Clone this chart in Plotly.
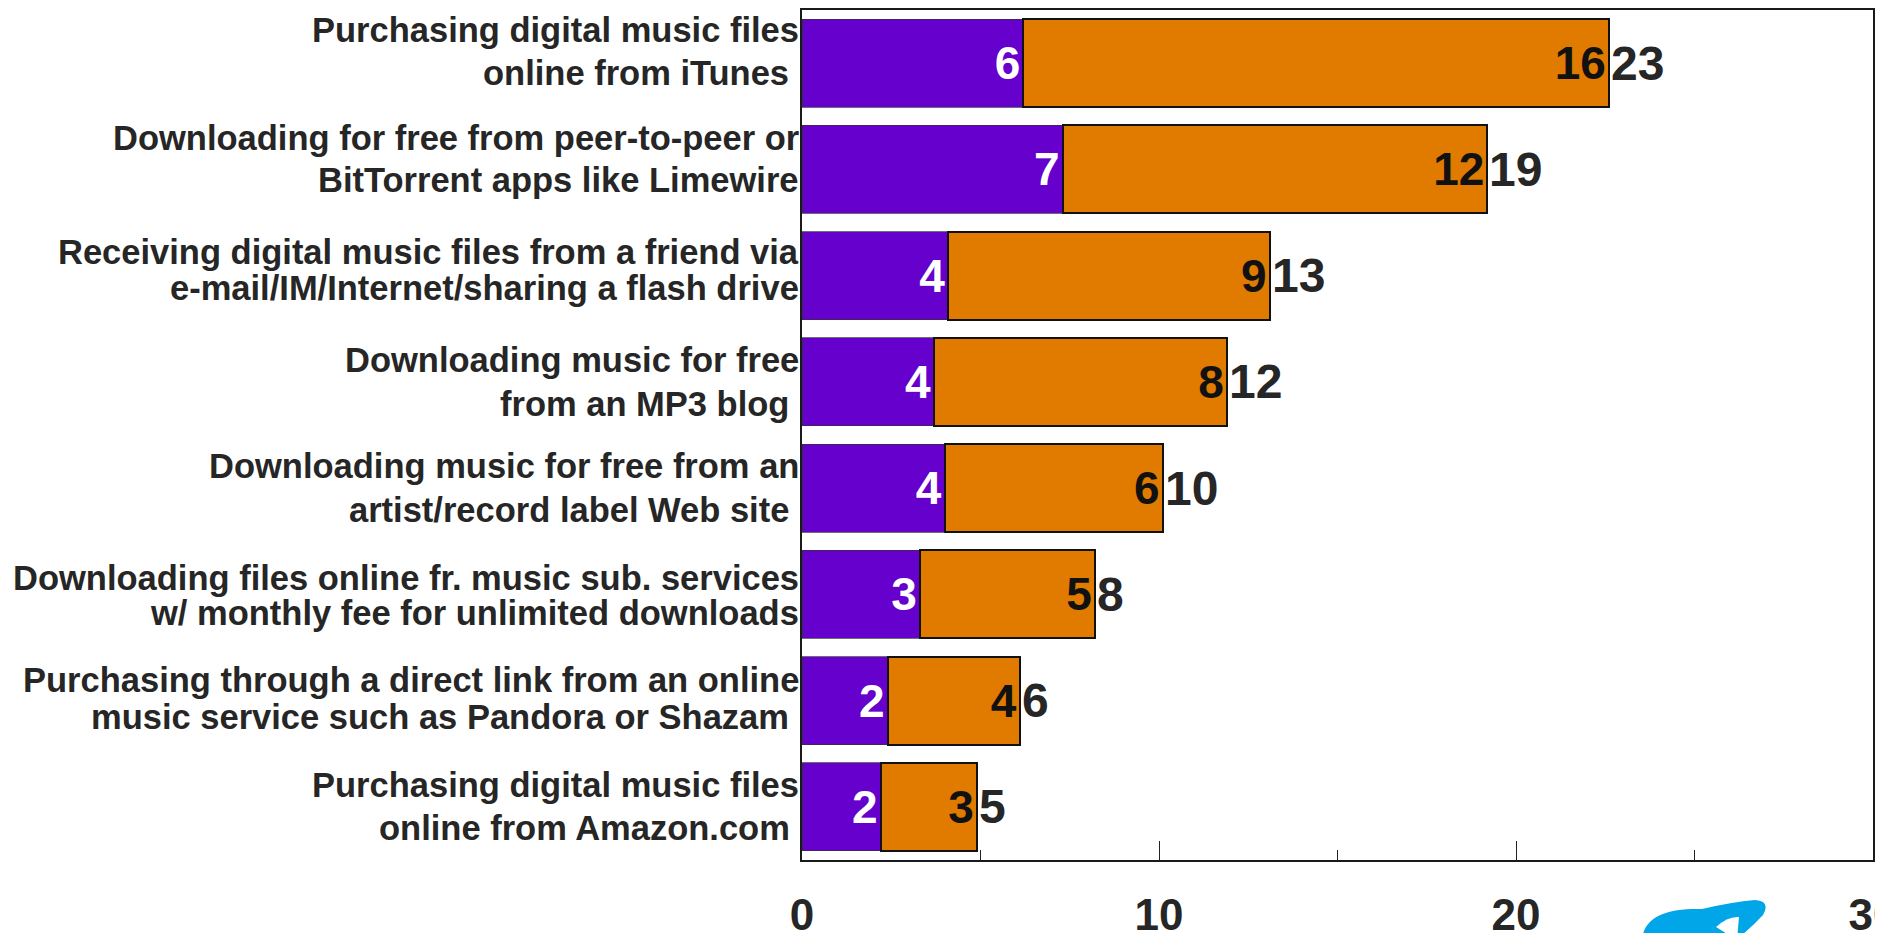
import plotly.graph_objects as go

NB = "\u00a0"
categories = [
    "Purchasing digital music files<br>online from iTunes" + NB,
    "Downloading for free from peer-to-peer or<br>BitTorrent apps like Limewire",
    "Receiving digital music files from a friend via<br>e-mail/IM/Internet/sharing a flash drive",
    "Downloading music for free<br>from an MP3 blog" + NB,
    "Downloading music for free from an<br>artist/record label Web site" + NB,
    "Downloading files online fr. music sub. services<br>w/ monthly fee for unlimited downloads",
    "Purchasing through a direct link from an online<br>music service such as Pandora or Shazam" + NB,
    "Purchasing digital music files<br>online from Amazon.com" + NB,
]
purple_values = [6.2, 7.3, 4.1, 3.7, 4.0, 3.3, 2.4, 2.2]
orange_values = [16.4, 11.9, 9.0, 8.2, 6.1, 4.9, 3.7, 2.7]
totals = [round(p + o, 1) for p, o in zip(purple_values, orange_values)]
total_labels = [f"{t:.0f}" for t in totals]
x_tick_values = [0, 10, 20, 30]

# per-label styling of the category captions (pixels): vertical lift and line spacing
label_lift = [12, 10, 6, 0, 0, -1, 2, 0]
label_line_gap = [43, 42, 36, 44, 44, 35, 37, 43]

FONT = "Liberation Sans, Arial, sans-serif"
TEXT_COLOR = "#262626"

# figure geometry (the page adds an 8px body margin)
FIG_W, FIG_H = 1875, 925
M_L, M_R, M_T, M_B = 794, 10, 2, 73
PLOT_W = FIG_W - M_L - M_R
PLOT_H = FIG_H - M_T - M_B


def px_to_paper(px, py):
    """page pixel -> paper coords (for the decorative logo only)"""
    fx, fy = px - 8, py - 8
    return (fx - M_L) / PLOT_W, (FIG_H - M_B - fy) / PLOT_H


def path_from(points_cmds):
    out = []
    for cmd, pts in points_cmds:
        coords = " ".join(f"{x:.5f},{y:.5f}" for x, y in (px_to_paper(*p) for p in pts))
        out.append(f"{cmd} {coords}" if pts else cmd)
    return " ".join(out)


fig = go.Figure()
fig.add_trace(go.Bar(
    y=categories, x=purple_values, orientation="h",
    marker=dict(color="#6600CC", line=dict(color="rgba(50,50,50,0.7)", width=1)),
    texttemplate="%{x:.0f}", textposition="inside", insidetextanchor="end",
    textangle=0,
    insidetextfont=dict(family=FONT, size=46, color="white", weight="bold"),
    hoverinfo="skip", showlegend=False,
))
fig.add_trace(go.Bar(
    y=categories, x=orange_values, orientation="h",
    marker=dict(color="#E07B00", line=dict(color="#111111", width=2)),
    texttemplate="%{x:.0f}", textposition="inside", insidetextanchor="end",
    textangle=0,
    insidetextfont=dict(family=FONT, size=46, color="#111111", weight="bold"),
    hoverinfo="skip", showlegend=False,
))

for cat, tot, lab in zip(categories, totals, total_labels):
    fig.add_annotation(
        x=tot, y=cat, xref="x", yref="y", text=lab, showarrow=False,
        xanchor="left", yanchor="middle", xshift=0,
        font=dict(family=FONT, size=48, color=TEXT_COLOR, weight="bold"),
    )

# category captions, one annotation per line
for cat, lift, gap in zip(categories, label_lift, label_line_gap):
    lines = cat.split("<br>")
    for k, line in enumerate(lines):
        offset = lift + gap * ((len(lines) - 1) / 2 - k)
        fig.add_annotation(
            x=0, y=cat, xref="paper", yref="y", text=line, showarrow=False,
            xanchor="right", yanchor="middle", xshift=-1, yshift=offset,
            font=dict(family=FONT, size=34.5, color=TEXT_COLOR, weight="bold"),
        )

# decorative logo fragment at the bottom-right edge
logo_outer = path_from([
    ("M", [(1642, 940)]),
    ("C", [(1644, 916), (1668, 908), (1702, 909)]),
    ("Q", [(1732, 902), (1755, 900)]),
    ("Q", [(1771, 901), (1763, 915)]),
    ("Q", [(1752, 927), (1736, 940)]),
    ("Z", []),
])
logo_hole = path_from([
    ("M", [(1716, 927)]),
    ("Q", [(1728, 916), (1739, 917)]),
    ("L", [(1737, 940), (1722, 940)]),
    ("Z", []),
])
fig.add_shape(type="path", path=logo_outer, xref="paper", yref="paper",
              fillcolor="#00A6E8", line=dict(width=0), layer="above")
fig.add_shape(type="path", path=logo_hole, xref="paper", yref="paper",
              fillcolor="white", line=dict(width=0), layer="above")

fig.update_layout(
    width=FIG_W, height=FIG_H,
    barmode="stack", bargap=0.17,
    margin=dict(l=M_L, r=M_R, t=M_T, b=M_B, autoexpand=False),
    paper_bgcolor="white", plot_bgcolor="white",
    font=dict(family=FONT, color=TEXT_COLOR),
)
fig.update_xaxes(
    range=[0, 30], tickvals=x_tick_values, ticktext=[str(v) for v in x_tick_values],
    ticks="inside", ticklen=19, tickwidth=1, tickcolor="#222222",
    minor=dict(dtick=5, tick0=0, ticks="inside", ticklen=10, tickwidth=1, tickcolor="#222222"),
    showgrid=False, zeroline=False,
    showline=True, linecolor="#1a1a1a", linewidth=2, mirror=True,
    tickfont=dict(family=FONT, size=44, color=TEXT_COLOR, weight="bold"),
    ticklabelstandoff=15, ticklabeloverflow="allow",
)
fig.update_yaxes(
    autorange="reversed", ticks="", showgrid=False, zeroline=False,
    showline=True, linecolor="#1a1a1a", linewidth=2, mirror=True,
    showticklabels=False,
)

fig.write_html("out.html")
